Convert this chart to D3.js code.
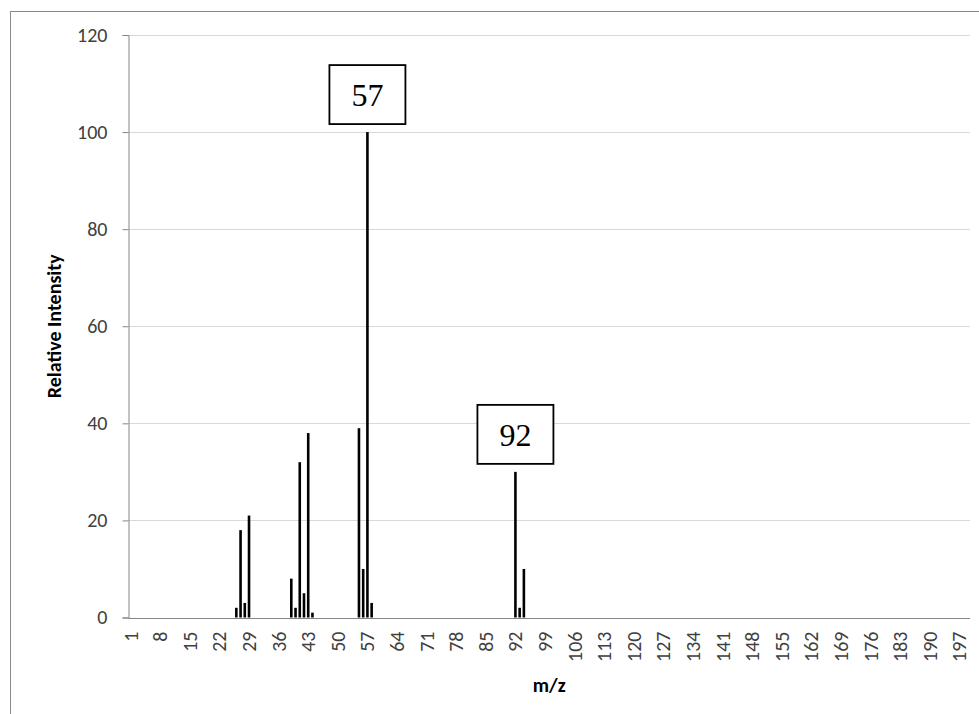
<!DOCTYPE html>
<html>
<head>
<meta charset="utf-8">
<script src="https://cdn.jsdelivr.net/npm/d3@7"></script>
<style>
  body { margin: 0; background: #fff; }
  svg { display: block; }
  .tick-label { font-family: Calibri, Carlito, "Open Sans", sans-serif; font-size: 20px; fill: #404040; }
  .axis-title { font-family: Calibri, Carlito, "Open Sans", sans-serif; font-weight: bold; fill: #000; }
  .note { font-family: "Times New Roman", "Liberation Serif", serif; font-size: 32px; fill: #000; }
</style>
</head>
<body>
<svg width="979" height="714"></svg>
<script>
// m/z categories on the x axis (1 .. 199)
const mzCategories = d3.range(1, 200);
const xTickLabels = [1, 8, 15, 22, 29, 36, 43, 50, 57, 64, 71, 78, 85, 92, 99, 106, 113, 120,
  127, 134, 141, 148, 155, 162, 169, 176, 183, 190, 197];
const yTickLabels = [0, 20, 40, 60, 80, 100, 120];

// peaks
const peakMz = [26, 27, 28, 29, 39, 40, 41, 42, 43, 44, 55, 56, 57, 58, 92, 93, 94];
const peakIntensity = [2, 18, 3, 21, 8, 2, 32, 5, 38, 1, 39, 10, 100, 3, 30, 2, 10];

// boxed labels over the key peaks
const noteMz = [57, 92];
const noteText = ['57', '92'];

const svg = d3.select('svg');

const plotLeft = 128.5, plotRight = 970, plotTop = 35, plotBottom = 617.5;

const x = d3.scaleBand().domain(mzCategories).range([plotLeft, plotRight]);
const y = d3.scaleLinear().domain([0, 120]).range([plotBottom, plotTop]);

// outer chart border
svg.append('rect')
  .attr('x', 10.5).attr('y', 11.5)
  .attr('width', 1000).attr('height', 1000)
  .attr('fill', 'none')
  .attr('stroke', '#898989')
  .attr('stroke-width', 1);

// gridlines
svg.append('g')
  .selectAll('line')
  .data(yTickLabels.filter(d => d > 0))
  .enter()
  .append('line')
  .attr('x1', plotLeft).attr('x2', plotRight)
  .attr('y1', d => Math.round(y(d)) + 0.5)
  .attr('y2', d => Math.round(y(d)) + 0.5)
  .attr('stroke', '#d9d9d9')
  .attr('stroke-width', 1);

// y axis
const yAxis = svg.append('g')
  .attr('transform', `translate(${plotLeft},0)`)
  .call(d3.axisLeft(y).tickValues(yTickLabels).tickSize(6).tickPadding(15));
yAxis.select('.domain').attr('stroke', '#868686');
yAxis.selectAll('.tick line').attr('stroke', '#868686');
yAxis.selectAll('.tick text')
  .attr('class', 'tick-label')
  .attr('font-family', null).attr('font-size', null).attr('fill', null);
yAxis.attr('font-family', null).attr('font-size', null);

// x baseline
svg.append('line')
  .attr('x1', plotLeft).attr('x2', plotRight)
  .attr('y1', Math.round(y(0)) + 0.5).attr('y2', Math.round(y(0)) + 0.5)
  .attr('stroke', '#868686');

// x tick labels (rotated)
svg.append('g')
  .selectAll('text')
  .data(xTickLabels)
  .enter()
  .append('text')
  .attr('class', 'tick-label')
  .attr('text-anchor', 'end')
  .attr('dy', '0.35em')
  .attr('transform', d => `translate(${x(d) + x.bandwidth() / 2},${plotBottom + 14}) rotate(-90)`)
  .text(d => d);

// bars
const barW = 2.6;
svg.append('g')
  .selectAll('rect')
  .data(peakMz.map((m, i) => ({ m, v: peakIntensity[i] })))
  .enter()
  .append('rect')
  .attr('x', d => x(d.m) + x.bandwidth() / 2 - barW / 2)
  .attr('y', d => y(d.v))
  .attr('width', barW)
  .attr('height', d => y(0) - y(d.v))
  .attr('fill', '#000');

// boxed annotations
const notes = svg.append('g')
  .selectAll('g')
  .data(noteMz.map((m, i) => ({ m, t: noteText[i], v: peakIntensity[peakMz.indexOf(m)] })))
  .enter()
  .append('g')
  .attr('transform', d => `translate(${x(d.m) + x.bandwidth() / 2},${y(d.v) - 8})`);

notes.append('rect')
  .attr('x', -38).attr('y', -59)
  .attr('width', 76).attr('height', 59)
  .attr('fill', '#fff')
  .attr('stroke', '#000')
  .attr('stroke-width', 1.8);

notes.append('text')
  .attr('class', 'note')
  .attr('text-anchor', 'middle')
  .attr('y', -18)
  .text(d => d.t);

// axis titles
svg.append('text')
  .attr('class', 'axis-title')
  .attr('font-size', 20)
  .attr('text-anchor', 'middle')
  .attr('transform', `translate(61,${(plotTop + plotBottom) / 2}) rotate(-90)`)
  .text('Relative Intensity');

svg.append('text')
  .attr('class', 'axis-title')
  .attr('font-size', 20)
  .attr('text-anchor', 'middle')
  .attr('x', (plotLeft + plotRight) / 2)
  .attr('y', 692)
  .text('m/z');
</script>
</body>
</html>
